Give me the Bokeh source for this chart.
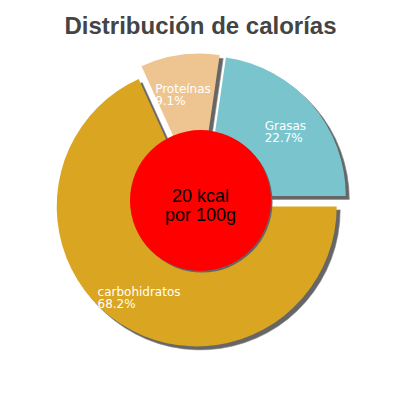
import math
from bokeh.plotting import figure
from bokeh.models import Range1d
from bokeh.core.properties import value
from bokeh.embed import file_html
from bokeh.resources import INLINE

# ---- data ----
title_text = "Distribución de calorías"
categories = ["Grasas", "Proteínas", "carbohidratos"]
percents = [22.7, 9.1, 68.2]
pct_labels = ["22.7%", "9.1%", "68.2%"]
colors = ["#7AC5CD", "#EEC591", "#DAA520"]
center_lines = ["20 kcal", "por 100g"]

# ---- geometry (screen-pixel based data space, y up) ----
W = 400
CX, CY = 200, 400 - 200
R = 140
EXPLODE = 7
SHADOW = 3.5
HOLE_R = 70.5
LABEL_R = 104
CHAR_W = 6.6

p = figure(width=384, height=384, output_backend="svg", toolbar_location=None,
           x_range=Range1d(0, 384), y_range=Range1d(16, 400), min_border=0)
p.axis.visible = False
p.grid.visible = False
p.outline_line_color = None
p.background_fill_color = "white"
p.border_fill_color = "white"

total = sum(percents)
starts, ends, mids = [], [], []
acc = 0.0
for v in percents:
    a0 = acc / total * 2 * math.pi
    acc += v
    a1 = acc / total * 2 * math.pi
    starts.append(a0)
    ends.append(a1)
    mids.append((a0 + a1) / 2)

xs = [CX + EXPLODE * math.cos(m) for m in mids]
ys = [CY + EXPLODE * math.sin(m) for m in mids]

# shadows
p.wedge(x=[x + SHADOW for x in xs], y=[y - SHADOW for y in ys], radius=R,
        start_angle=starts, end_angle=ends, fill_color="#666666",
        line_color="#888888", line_width=1, line_alpha=0.6)
# slices
p.wedge(x=xs, y=ys, radius=R, start_angle=starts, end_angle=ends,
        fill_color=colors, line_color=None)

# center circle with shadow
p.circle(x=[CX + 1.5], y=[CY - 1.5], radius=HOLE_R, fill_color="#666666",
         line_color=None)
p.circle(x=[CX], y=[CY], radius=HOLE_R, fill_color="#FF0000", line_color=None)

# labels
for i, name in enumerate(categories):
    lx = xs[i] + LABEL_R * math.cos(mids[i])
    ly = ys[i] + LABEL_R * math.sin(mids[i])
    wmax = max(len(name), len(pct_labels[i])) * CHAR_W
    left = lx - wmax / 2
    p.text(x=[left], y=[ly + 2], text=[name], text_color="white",
           text_font=value("DejaVu Sans"), text_font_size="12px",
           text_align="left", text_baseline="alphabetic")
    p.text(x=[left], y=[ly - 10], text=[pct_labels[i]], text_color="white",
           text_font=value("DejaVu Sans"), text_font_size="12px",
           text_align="left", text_baseline="alphabetic")

# center text
p.text(x=[CX, CX], y=[CY + 5, CY - 14], text=center_lines, text_color="black",
       text_font=value("Liberation Sans"), text_font_size="18px",
       text_align="center", text_baseline="alphabetic")

# title
p.text(x=[W / 2], y=[400 - 25], text=[title_text], text_color="#444444",
       text_font=value("Liberation Sans"), text_font_size="24px",
       text_font_style="bold", text_align="center", text_baseline="alphabetic")

open("out.html", "w").write(file_html(p, INLINE))
